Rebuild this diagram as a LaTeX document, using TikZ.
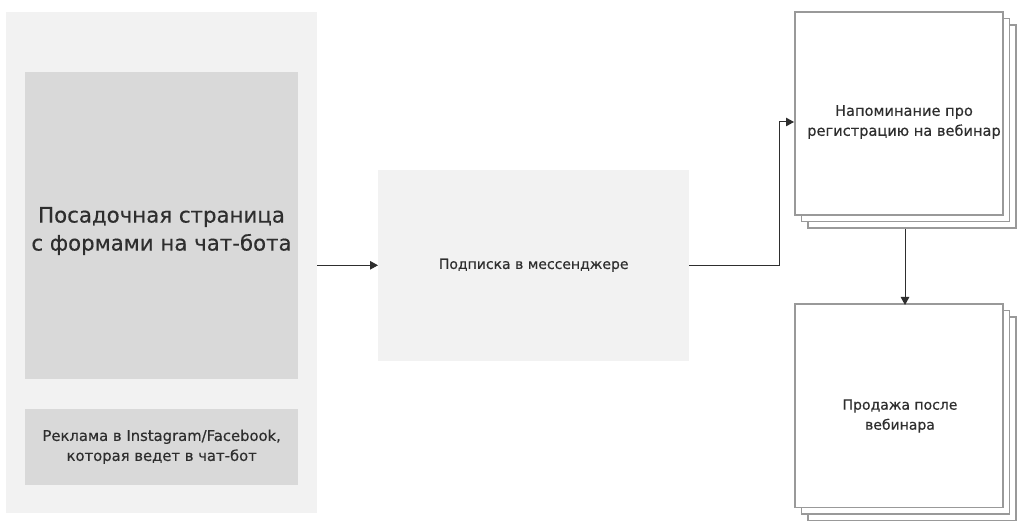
\documentclass[tikz,border=0pt]{standalone}
\usepackage{fontspec}
\setmainfont{DejaVu Sans}[FakeBold=0.4]
\usetikzlibrary{arrows.meta}
\definecolor{panel}{HTML}{F2F2F2}
\definecolor{boxgray}{HTML}{D9D9D9}
\definecolor{edge}{HTML}{999999}
\definecolor{ink}{HTML}{2E2E2E}
\begin{document}
\begin{tikzpicture}[x=1pt,y=1pt,
  flat/.style={draw=none, inner sep=0pt, anchor=south west, text=ink, align=center},
  card/.style={draw=edge, line width=1.5pt, fill=white, inner sep=0pt, anchor=south west,
    minimum width=208pt, minimum height=203pt},
  label/.style={text=ink, align=center, inner sep=0pt},
  conn/.style={draw=ink, line width=1pt, -{Triangle[length=8pt,width=8.5pt]}},
  midfont/.style={font=\fontsize{14}{20}\selectfont}
]
\useasboundingbox (0,0) rectangle (1024,530);
\fill[white] (0,0) rectangle (1024,530);
% left panel
\node[flat, fill=panel, minimum width=311pt, minimum height=501pt] (panel) at (6,17) {};
\node[flat, fill=boxgray, minimum width=273pt, minimum height=307pt] (landing) at (25,151) {};
\node[label, font=\fontsize{21.3}{28}\selectfont] (landingtext) at (161.5,299)
      {Посадочная страница\\с формами на чат-бота};
\node[flat, fill=boxgray, minimum width=273pt, minimum height=76pt,
      font=\fontsize{14.8}{20}\selectfont] (ads) at (25,45)
      {Реклама в Instagram/Facebook,\\которая ведет в чат-бот};
% middle box
\node[flat, fill=panel, minimum width=311pt, minimum height=191pt, midfont] (sub) at (378,169)
      {Подписка в мессенджере};
% top right stacked cards
\node[card] (r3) at (807,301) {};
\node[card] (r2) at (800.5,307.5) {};
\node[card] (rem) at (794,314) {};
\node[label, font=\fontsize{14.6}{20}\selectfont] (remtext) at (904,408) {Напоминание про\\регистрацию на вебинар};
% bottom right stacked cards
\node[card] (s3) at (807,9) {};
\node[card] (s2) at (800.5,15.5) {};
\node[card] (sale) at (794,22) {};
\node[label, midfont] (saletext) at (900,114) {Продажа после\\вебинара};
% connectors
\coordinate (bend2) at (779,408);
\coordinate (bend1) at (bend2 |- sub.east);
\coordinate (remin) at (794,408);
\coordinate (downstart) at (905,301);
\coordinate (downend) at (905,225);
\draw[conn] (panel.east |- sub.west) -- (sub.west);
\draw[conn] (sub.east) -- (bend1) -- (bend2) -- (remin);
\draw[conn] (downstart) -- (downend);
\end{tikzpicture}
\end{document}
